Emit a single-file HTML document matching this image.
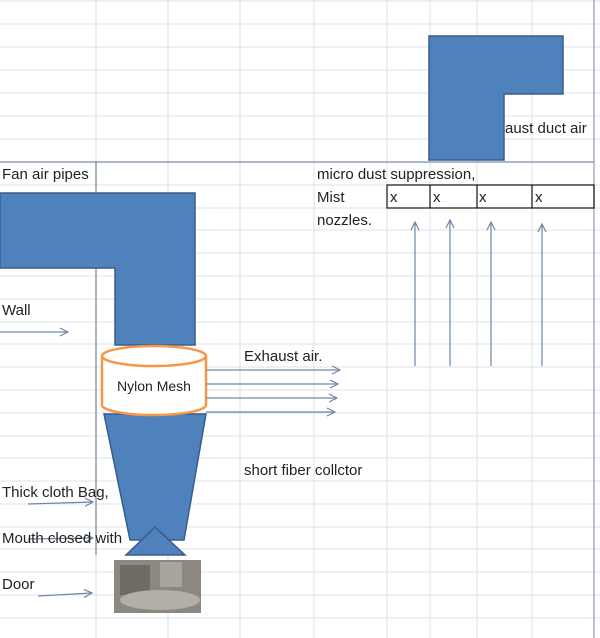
<!DOCTYPE html>
<html><head><meta charset="utf-8"><style>
html,body{margin:0;padding:0;background:#fff;}
svg{display:block;}
text{font-family:"Liberation Sans",sans-serif;font-size:15px;fill:#222;}
</style></head><body>
<svg width="600" height="638" viewBox="0 0 600 638" xmlns="http://www.w3.org/2000/svg">
<defs>
<marker id="ah" markerWidth="10" markerHeight="10" refX="9" refY="5" orient="auto" markerUnits="userSpaceOnUse">
<path d="M1,1 L9,5 L1,9" fill="none" stroke="#6f86a8" stroke-width="1.2"/>
</marker>
</defs>
<g stroke="#dde1e7" stroke-width="1">
<line x1="0" y1="1" x2="600" y2="1"/><line x1="0" y1="24" x2="600" y2="24"/><line x1="0" y1="47" x2="600" y2="47"/><line x1="0" y1="70" x2="600" y2="70"/><line x1="0" y1="93" x2="600" y2="93"/><line x1="0" y1="116" x2="600" y2="116"/><line x1="0" y1="139" x2="600" y2="139"/><line x1="0" y1="185" x2="600" y2="185"/><line x1="0" y1="208" x2="600" y2="208"/><line x1="0" y1="230" x2="600" y2="230"/><line x1="0" y1="253" x2="600" y2="253"/><line x1="0" y1="276" x2="600" y2="276"/><line x1="0" y1="299" x2="600" y2="299"/><line x1="0" y1="322" x2="600" y2="322"/><line x1="0" y1="344" x2="600" y2="344"/><line x1="0" y1="367" x2="600" y2="367"/><line x1="0" y1="390" x2="600" y2="390"/><line x1="0" y1="413" x2="600" y2="413"/><line x1="0" y1="436" x2="600" y2="436"/><line x1="0" y1="458" x2="600" y2="458"/><line x1="0" y1="481" x2="600" y2="481"/><line x1="0" y1="504" x2="600" y2="504"/><line x1="0" y1="527" x2="600" y2="527"/><line x1="0" y1="549" x2="600" y2="549"/><line x1="0" y1="572" x2="600" y2="572"/><line x1="0" y1="595" x2="600" y2="595"/><line x1="0" y1="618" x2="600" y2="618"/>
<line x1="168" y1="0" x2="168" y2="638"/><line x1="240" y1="0" x2="240" y2="638"/><line x1="314" y1="0" x2="314" y2="638"/><line x1="387" y1="0" x2="387" y2="638"/><line x1="430" y1="0" x2="430" y2="638"/><line x1="477" y1="0" x2="477" y2="638"/><line x1="532" y1="0" x2="532" y2="638"/><line x1="96" y1="0" x2="96" y2="638"/>
</g>
<line x1="0" y1="162" x2="594" y2="162" stroke="#7a8cab" stroke-width="1.3"/>
<line x1="96" y1="162" x2="96" y2="555" stroke="#7a8cab" stroke-width="1.3"/>
<line x1="594" y1="0" x2="594" y2="638" stroke="#9aa5b8" stroke-width="1.3"/>
<polygon points="429,36 563,36 563,94 504,94 504,160 429,160" fill="#4f81bd" stroke="#385d8a" stroke-width="1.5"/>
<polygon points="0,193 195,193 195,345 115,345 115,268 0,268" fill="#4f81bd" stroke="#385d8a" stroke-width="1.5"/>
<polygon points="104,414 206,414 184,540 130,540" fill="#4f81bd" stroke="#385d8a" stroke-width="1.5"/>
<polygon points="155,527 185,555 126,555" fill="#4f81bd" stroke="#385d8a" stroke-width="1.5"/>
<path d="M102,356 L102,405 A52,10 0 0 0 206,405 L206,356" fill="#fff" stroke="#f79646" stroke-width="2.5"/>
<ellipse cx="154" cy="356" rx="52" ry="10" fill="#fff" stroke="#f79646" stroke-width="2.5"/>
<text x="154" y="391" text-anchor="middle" style="font-size:14px">Nylon Mesh</text>
<rect x="114" y="560" width="87" height="53" fill="#8c8780"/>
<rect x="120" y="565" width="30" height="30" fill="#6e6a64"/>
<rect x="160" y="562" width="22" height="25" fill="#a9a49c"/>
<ellipse cx="160" cy="600" rx="40" ry="10" fill="#b3aea6"/>
<g stroke="#6f86a8" stroke-width="1.2" marker-end="url(#ah)">
<line x1="206" y1="370" x2="340" y2="370"/><line x1="206" y1="384" x2="338" y2="384"/><line x1="206" y1="398" x2="337" y2="398"/><line x1="206" y1="412" x2="335" y2="412"/>
<line x1="415" y1="366" x2="415" y2="222"/><line x1="450" y1="366" x2="450" y2="220"/><line x1="491" y1="366" x2="491" y2="222"/><line x1="542" y1="366" x2="542" y2="224"/>
<line x1="0" y1="332" x2="68" y2="332"/><line x1="28" y1="504" x2="93" y2="502"/><line x1="28" y1="539" x2="93" y2="538"/><line x1="38" y1="596" x2="92" y2="593"/>
</g>
<g fill="none" stroke="#111" stroke-width="1.2">
<rect x="387" y="185" width="207" height="23"/>
<line x1="430" y1="185" x2="430" y2="208"/><line x1="477" y1="185" x2="477" y2="208"/><line x1="532" y1="185" x2="532" y2="208"/>
</g>
<text x="390" y="202">x</text><text x="433" y="202">x</text><text x="479" y="202">x</text><text x="535" y="202">x</text>
<text x="505" y="133">aust duct air</text>
<text x="2" y="179">Fan air pipes</text>
<text x="317" y="179">micro dust suppression,</text>
<text x="317" y="202">Mist</text>
<text x="317" y="225">nozzles.</text>
<text x="2" y="315">Wall</text>
<text x="244" y="361">Exhaust air.</text>
<text x="244" y="475">short fiber collctor</text>
<text x="2" y="497">Thick cloth Bag,</text>
<text x="2" y="543">Mouth closed with</text>
<text x="2" y="589">Door</text>
</svg>
</body></html>
